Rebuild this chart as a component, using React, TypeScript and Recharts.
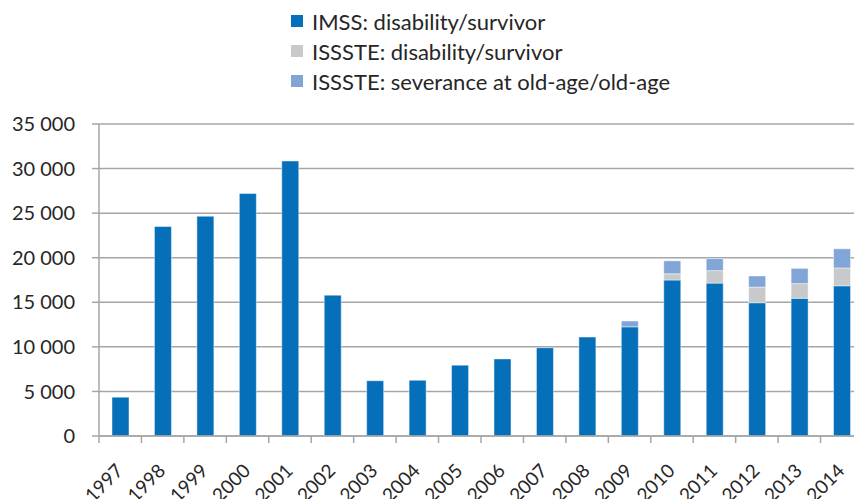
import { Bar, BarChart, CartesianGrid, Legend, XAxis, YAxis } from "recharts";

const years = [
  "1997", "1998", "1999", "2000", "2001", "2002", "2003", "2004", "2005",
  "2006", "2007", "2008", "2009", "2010", "2011", "2012", "2013", "2014",
];
const imssDisability = [
  4350, 23500, 24650, 27200, 30850, 15800, 6200, 6250, 7950,
  8650, 9900, 11100, 12250, 17500, 17150, 14950, 15450, 16850,
];
const isssteDisability = [0, 0, 0, 0, 0, 0, 0, 0, 0, 0, 0, 0, 0, 700, 1400, 1750, 1650, 2000];
const isssteSeverance = [0, 0, 0, 0, 0, 0, 0, 0, 0, 0, 0, 0, 650, 1450, 1350, 1250, 1700, 2150];
const yTicks = [0, 5000, 10000, 15000, 20000, 25000, 30000, 35000];

const data = years.map((year, i) => ({
  year,
  imss: imssDisability[i],
  isssteDis: isssteDisability[i],
  isssteSev: isssteSeverance[i],
}));

const CHART_W = 864;
const CHART_H = 499;
const Y_AXIS_W = 99;
const MARGIN = { top: 124, right: 1, bottom: 0, left: 0 };
const BAND = (CHART_W - Y_AXIS_W - MARGIN.left - MARGIN.right) / years.length;

const GRID = "#a6a6a6";
const TEXT = "#262626";
const FONT = "Lato, 'Noto Sans', sans-serif";

const fmt = (v: number) => String(v).replace(/\B(?=(\d{3})+(?!\d))/g, " ");

// year label rotated -45°, plus a tick mark on the left edge of its band
function YearTick({ x, y, payload }: any) {
  const left = x - BAND / 2;
  const tx = x + 4;
  const ty = y + 36;
  return (
    <g>
      <line x1={left} y1={y} x2={left} y2={y + 7} stroke={GRID} strokeWidth={1.5} />
      <text
        x={tx}
        y={ty}
        textAnchor="end"
        transform={`rotate(-45, ${tx}, ${ty})`}
        fill={TEXT}
        fontSize={19}
        fontFamily={FONT}
      >
        {payload.value}
      </text>
    </g>
  );
}

function LegendList({ payload }: any) {
  return (
    <div style={{ fontFamily: FONT, fontSize: 22, color: TEXT }}>
      {(payload || []).map((item: any) => (
        <div key={item.value} style={{ display: "flex", alignItems: "center", height: 30 }}>
          <span style={{ width: 12, height: 12, background: item.color, marginRight: 9 }} />
          <span>{item.value}</span>
        </div>
      ))}
    </div>
  );
}

export default function App() {
  return (
    <div style={{ position: "absolute", left: 0, top: 0, width: 854, height: 499, overflow: "hidden", background: "#fff" }}>
      <BarChart width={CHART_W} height={CHART_H} data={data} margin={MARGIN} barSize={17}>
        <CartesianGrid vertical={false} stroke={GRID} strokeWidth={1.5} />
        <XAxis
          dataKey="year"
          interval={0}
          height={63}
          tickSize={0}
          tickMargin={0}
          tickLine={false}
          axisLine={{ stroke: GRID, strokeWidth: 1.5 }}
          tick={<YearTick />}
        />
        <YAxis
          width={Y_AXIS_W}
          domain={[0, 35000]}
          ticks={yTicks}
          tickFormatter={fmt}
          tickSize={7}
          tickMargin={17}
          axisLine={{ stroke: GRID, strokeWidth: 1.5 }}
          tickLine={{ stroke: GRID, strokeWidth: 1.5 }}
          tick={{ fill: TEXT, fontSize: 20, fontFamily: FONT }}
        />
        <Legend
          layout="horizontal"
          verticalAlign="middle"
          align="center"
          content={<LegendList />}
          wrapperStyle={{ top: 6, left: 291, width: "auto", height: "auto" }}
        />
        <Bar dataKey="imss" name="IMSS: disability/survivor" stackId="a" fill="#0570b9" stroke="rgba(255,255,255,0.45)" isAnimationActive={false} />
        <Bar dataKey="isssteDis" name="ISSSTE: disability/survivor" stackId="a" fill="#c8c9cb" stroke="rgba(255,255,255,0.45)" isAnimationActive={false} />
        <Bar dataKey="isssteSev" name="ISSSTE: severance at old-age/old-age" stackId="a" fill="#82a5d8" stroke="rgba(255,255,255,0.45)" isAnimationActive={false} />
      </BarChart>
    </div>
  );
}
